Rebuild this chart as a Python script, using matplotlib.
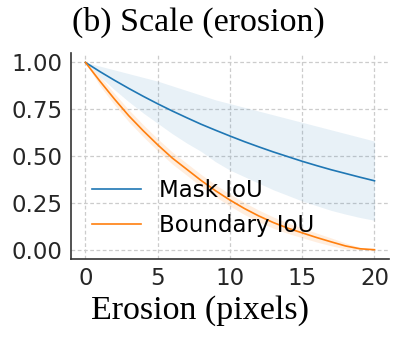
import matplotlib
matplotlib.use("Agg")
import matplotlib.pyplot as plt

plt.rcParams["font.family"] = ["DejaVu Sans"]

erosion = list(range(0, 21))
mask_iou = [1.0, 0.951, 0.905, 0.861, 0.819, 0.779, 0.741, 0.705, 0.670, 0.638, 0.607,
            0.577, 0.549, 0.522, 0.497, 0.472, 0.449, 0.427, 0.407, 0.387, 0.368]
mask_hi = [1.0, 0.98, 0.96, 0.94, 0.92, 0.90, 0.875, 0.85, 0.825, 0.80, 0.78,
           0.76, 0.74, 0.72, 0.70, 0.68, 0.66, 0.64, 0.62, 0.60, 0.58]
mask_lo = [1.0, 0.925, 0.855, 0.79, 0.73, 0.675, 0.62, 0.57, 0.525, 0.47, 0.425,
           0.39, 0.355, 0.32, 0.29, 0.26, 0.235, 0.21, 0.19, 0.172, 0.157]
boundary_iou = [1.0, 0.90, 0.805, 0.715, 0.635, 0.56, 0.49, 0.43, 0.37, 0.315, 0.265,
                0.22, 0.18, 0.145, 0.115, 0.09, 0.065, 0.042, 0.02, 0.005, 0.0]
boundary_hi = [1.0, 0.925, 0.835, 0.747, 0.667, 0.592, 0.522, 0.462, 0.402, 0.347, 0.297,
               0.252, 0.211, 0.175, 0.143, 0.116, 0.089, 0.063, 0.036, 0.013, 0.0]
boundary_lo = [1.0, 0.875, 0.775, 0.683, 0.603, 0.528, 0.458, 0.398, 0.338, 0.283, 0.233,
               0.188, 0.149, 0.115, 0.087, 0.064, 0.041, 0.021, 0.004, 0.0, 0.0]

xticks = [0, 5, 10, 15, 20]
yticks = [0.0, 0.25, 0.5, 0.75, 1.0]

fig = plt.figure(figsize=(4.04, 3.40), dpi=100)
ax = fig.add_axes([0.1757, 0.238, 0.787, 0.606])

blue = "#1f77b4"
orange = "#ff7f0e"
ax.fill_between(erosion, mask_lo, mask_hi, color=blue, alpha=0.1, linewidth=0)
ax.fill_between(erosion, boundary_lo, boundary_hi, color=orange, alpha=0.13, linewidth=0)
ax.plot(erosion, mask_iou, color=blue, lw=1.2, label="Mask IoU")
ax.plot(erosion, boundary_iou, color=orange, lw=1.2, label="Boundary IoU")

ax.set_xlim(-1, 21)
ax.set_ylim(-0.05, 1.05)
ax.set_xticks(xticks)
ax.set_yticks(yticks)
ax.set_yticklabels([f"{v:.2f}" for v in yticks])
ax.tick_params(axis="both", length=0, labelsize=16.5, colors="#262626", pad=6)
ax.grid(True, ls=(0, (3, 2)), color="#cccccc", lw=0.9)
ax.set_axisbelow(True)
for s in ["top", "right"]:
    ax.spines[s].set_visible(False)
for s in ["left", "bottom"]:
    ax.spines[s].set_color("#333333")
    ax.spines[s].set_linewidth(1.2)

ax.legend(loc="lower left", bbox_to_anchor=(0.017, 0.03), frameon=False, fontsize=16.5,
          handlelength=2.1, handletextpad=0.8, labelspacing=0.5, borderaxespad=0.3)

fig.text(0.49, 0.935, "(b) Scale (erosion)", ha="center", va="center",
         family="Liberation Serif", fontsize=24.5)
fig.text(0.495, 0.085, "Erosion (pixels)", ha="center", va="center",
         family="Liberation Serif", fontsize=24.5)

fig.savefig("out.png", dpi=100)
